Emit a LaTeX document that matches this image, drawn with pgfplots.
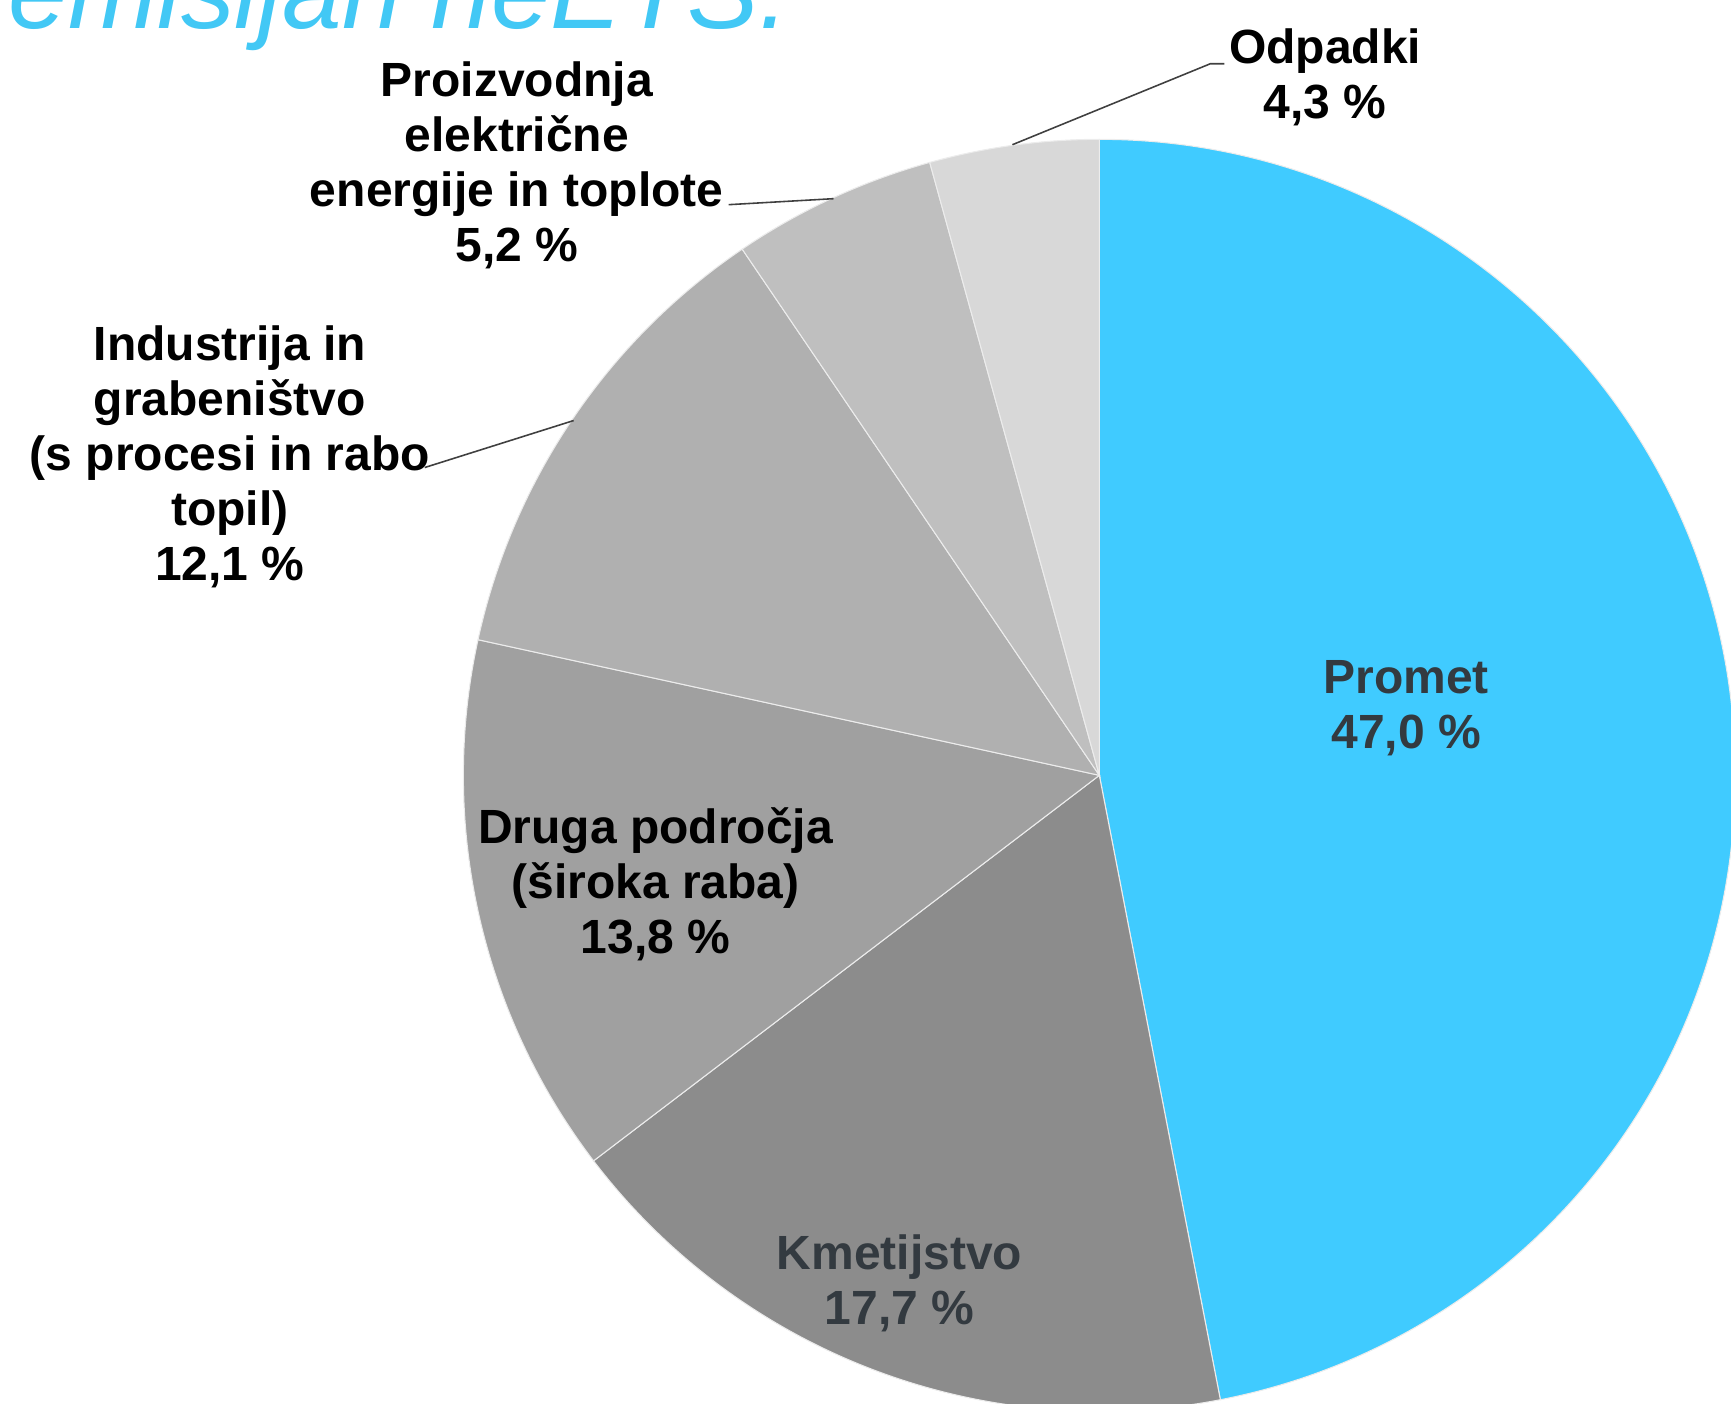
\documentclass[border=0pt]{standalone}
\usepackage{fontspec}
\setmainfont{Liberation Sans}
\usepackage{pgfplots}
\pgfplotsset{compat=1.18}

\definecolor{cPromet}{HTML}{40CBFF}
\definecolor{cKmet}{HTML}{8C8C8C}
\definecolor{cDruga}{HTML}{A0A0A0}
\definecolor{cInd}{HTML}{B0B0B0}
\definecolor{cProiz}{HTML}{BFBFBF}
\definecolor{cOdp}{HTML}{D8D8D8}
\definecolor{cTitle}{HTML}{42C8F5}
\definecolor{cLab}{HTML}{333A40}
\definecolor{cLead}{HTML}{404040}

% shares (%)
\def\vA{47.0}% Promet
\def\vB{17.7}% Kmetijstvo
\def\vC{13.8}% Druga podrocja
\def\vD{12.1}% Industrija
\def\vE{5.2}%  Proizvodnja
\def\vF{4.3}%  Odpadki
\pgfmathsetmacro\tot{\vA+\vB+\vC+\vD+\vE+\vF}
\pgfmathsetmacro\aA{90}
\pgfmathsetmacro\aB{\aA-\vA/\tot*360}
\pgfmathsetmacro\aC{\aB-\vB/\tot*360}
\pgfmathsetmacro\aD{\aC-\vC/\tot*360}
\pgfmathsetmacro\aE{\aD-\vD/\tot*360}
\pgfmathsetmacro\aF{\aE-\vE/\tot*360}
\pgfmathsetmacro\aG{\aF-\vF/\tot*360}
\def\R{6.36cm}
\def\C{axis cs:1100,629}

\newcommand\slice[3]{%
  \fill[#3,draw=white!85!gray,line width=0.3pt] (\C) -- ([shift={(#1:\R)}]\C) arc[start angle=#1,end angle=#2,radius=\R] -- cycle;}

\begin{document}
\begin{tikzpicture}
\begin{axis}[x=0.01cm,y=0.01cm,xmin=0,xmax=1731,ymin=0,ymax=1404,
  hide axis,clip=false,anchor=south west,at={(0,0)}]
\slice{\aA}{\aB}{cPromet}
\slice{\aB}{\aC}{cKmet}
\slice{\aC}{\aD}{cDruga}
\slice{\aD}{\aE}{cInd}
\slice{\aE}{\aF}{cProiz}
\slice{\aF}{\aG}{cOdp}

% leader lines
\draw[cLead,line width=0.45pt] (axis cs:1013,1260) -- (axis cs:1211,1341) -- (axis cs:1225,1341);
\draw[cLead,line width=0.45pt] (axis cs:834,1206) -- (axis cs:729,1200);
\draw[cLead,line width=0.45pt] (axis cs:574,984) -- (axis cs:425,937);

\tikzset{lab/.style={align=center,inner sep=0pt,font=\bfseries\fontsize{13.66}{15.65}\selectfont}}
\node[lab,cLab] at (axis cs:1407,696) {Promet\\47,0 \%};
\node[lab,cLab] at (axis cs:900,121) {Kmetijstvo\\17,7 \%};
\node[lab,black] at (axis cs:656,520) {Druga področja\\(široka raba)\\13,8 \%};
\node[lab,black] at (axis cs:230,947.5) {Industrija in\\grabeništvo\\(s procesi in rabo\\topil)\\12,1 \%};
\node[lab,black] at (axis cs:517,1239) {Proizvodnja\\električne\\energije in toplote\\5,2 \%};
\node[lab,black] at (axis cs:1326,1327) {Odpadki\\4,3 \%};

% title (cut off at top)
\node[anchor=base west,inner sep=0pt,text=cTitle,font=\itshape\fontsize{30.5}{34}\selectfont] at (axis cs:8,1376) {emisijah neETS.};
\end{axis}
\pgfresetboundingbox
\path[use as bounding box] (0,0) rectangle (17.31,14.04);
\end{tikzpicture}
\end{document}
